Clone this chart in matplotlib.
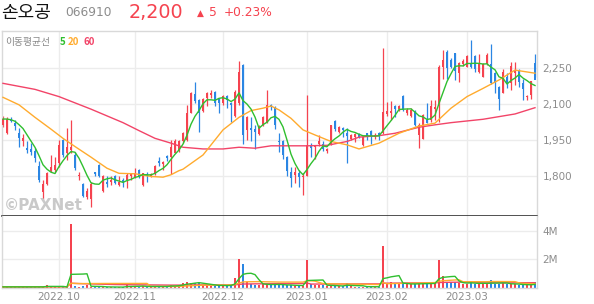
import matplotlib
matplotlib.use('Agg')
import matplotlib.pyplot as plt
import numpy as np
import pandas as pd

plt.rcParams['font.family'] = ['Noto Sans CJK KR', 'DejaVu Sans']

# ---------------- data ----------------
month_labels = ['2022.10', '2022.11', '2022.12', '2023.01', '2023.02', '2023.03']
month_start_idx = [14, 33, 55, 76, 96, 116]

opens = [2012, 1978, 2039, 2020, 1978, 1948, 1915, 1912, 1906, 1843,
         1736, 1768, 1823, 1826, 1854, 1951, 1895, 1909, 1888, 1799,
         1768, 1713, 1707, 1816, 1847, 1740, 1778, 1774, 1799, 1765,
         1785, 1785, 1801, 1796, 1826, 1764, 1809, 1801, 1812, 1865,
         1851, 1884, 1881, 1898, 1909, 1944, 1951, 2064, 2141, 2116,
         2072, 2123, 2137, 2151, 2119, 2102, 2133, 2102, 2050, 2102,
         2261, 1992, 1999, 1995, 1975, 2013, 2026, 2095, 2084, 1948,
         1948, 1881, 1819, 1805, 1812, 1796, 1801, 1926, 1920, 1934,
         1934, 1904, 1934, 2029, 1985, 1999, 1978, 1956, 1961, 1974,
         1930, 1978, 1989, 1964, 1981, 1978, 2058, 2064, 2091, 2078,
         2133, 2064, 2050, 2072, 1971, 1956, 2031, 2033, 2078, 2089,
         2254, 2317, 2282, 2309, 2227, 2265, 2254, 2265, 2298, 2234,
         2213, 2265, 2265, 2227, 2171, 2147, 2213, 2188, 2227, 2238,
         2188, 2127, 2137, 2270]
highs = [2048, 2044, 2047, 2033, 1999, 1975, 1944, 1937, 1916, 1861,
         1785, 1819, 1888, 1881, 1951, 1953, 1999, 2031, 1902, 1819,
         1771, 1750, 1778, 1819, 1851, 1806, 1799, 1801, 1806, 1799,
         1792, 1812, 1815, 1833, 1829, 1815, 1819, 1815, 1847, 1879,
         1861, 1888, 1951, 1953, 1951, 1985, 2095, 2151, 2192, 2119,
         2123, 2151, 2158, 2155, 2123, 2137, 2137, 2109, 2158, 2279,
         2265, 2050, 2044, 2013, 2013, 2050, 2158, 2099, 2089, 1978,
         1951, 1884, 1840, 1840, 1826, 1815, 2137, 1937, 1930, 1971,
         1944, 1916, 2013, 2033, 2008, 2006, 1999, 1975, 1981, 1978,
         1967, 1981, 1992, 1978, 1985, 2330, 2109, 2112, 2094, 2094,
         2136, 2082, 2082, 2075, 2020, 2058, 2102, 2116, 2116, 2261,
         2323, 2323, 2289, 2312, 2275, 2285, 2303, 2365, 2303, 2307,
         2271, 2310, 2348, 2232, 2174, 2243, 2227, 2275, 2275, 2243,
         2202, 2137, 2196, 2307]
lows = [2003, 1975, 2024, 1992, 1923, 1925, 1898, 1888, 1857, 1778,
        1702, 1764, 1818, 1818, 1840, 1881, 1868, 1895, 1826, 1785,
        1713, 1705, 1674, 1799, 1798, 1736, 1757, 1764, 1768, 1760,
        1757, 1750, 1785, 1792, 1792, 1760, 1774, 1796, 1805, 1843,
        1826, 1861, 1810, 1895, 1902, 1937, 1944, 2064, 2102, 1985,
        2068, 2089, 2123, 2089, 2064, 2095, 2082, 2026, 2047, 2095,
        1934, 1951, 1944, 1912, 1971, 2009, 2022, 2075, 1995, 1902,
        1870, 1801, 1754, 1771, 1757, 1723, 1799, 1879, 1870, 1925,
        1906, 1895, 1930, 1989, 1981, 1964, 1856, 1951, 1943, 1957,
        1926, 1951, 1934, 1953, 1951, 1974, 2050, 2033, 2047, 2072,
        2072, 2054, 2044, 2009, 1916, 1953, 2020, 2026, 2031, 2026,
        2202, 2202, 2247, 2199, 2192, 2257, 2251, 2247, 2234, 2229,
        2210, 2261, 2183, 2147, 2075, 2144, 2165, 2158, 2178, 2171,
        2116, 2116, 2119, 2210]
closes = [2037, 2037, 2028, 2009, 1957, 1957, 1907, 1902, 1875, 1785,
          1768, 1815, 1840, 1847, 1930, 1888, 1923, 1923, 1833, 1806,
          1716, 1740, 1768, 1808, 1801, 1801, 1768, 1785, 1771, 1774,
          1774, 1806, 1809, 1812, 1796, 1812, 1799, 1809, 1843, 1854,
          1857, 1875, 1920, 1948, 1944, 1978, 2061, 2147, 2113, 2061,
          2119, 2144, 2147, 2102, 2102, 2133, 2116, 2095, 2151, 2234,
          1971, 2044, 1992, 1985, 2003, 2044, 2095, 2085, 2013, 1941,
          1888, 1823, 1792, 1819, 1796, 1801, 1930, 1916, 1926, 1944,
          1912, 1912, 2013, 1995, 2002, 1992, 1968, 1971, 1974, 1964,
          1961, 1968, 1968, 1971, 1968, 2068, 2072, 2072, 2080, 2091,
          2075, 2075, 2075, 2013, 2013, 2053, 2022, 2091, 2088, 2254,
          2282, 2247, 2254, 2238, 2268, 2279, 2298, 2254, 2243, 2265,
          2265, 2303, 2185, 2188, 2119, 2234, 2185, 2257, 2240, 2192,
          2160, 2133, 2195, 2200]
volumes_m = [0.08, 0.08, 0.08, 0.08, 0.08, 0.08, 0.08, 0.08, 0.08, 0.08,
             0.08, 0.23, 0.08, 0.08, 0.08, 0.08, 0.08, 4.45, 0.12, 0.10,
             0.12, 0.18, 0.10, 0.08, 0.07, 0.09, 0.06, 0.07, 0.06, 0.07,
             0.06, 0.23, 0.10, 0.12, 0.10, 0.12, 0.10, 0.11, 0.12, 0.10,
             0.10, 0.12, 0.23, 0.15, 0.18, 0.38, 0.40, 0.38, 0.36, 0.35,
             0.18, 0.20, 0.17, 0.18, 0.16, 0.18, 0.15, 0.22, 0.70, 2.00,
             1.70, 0.45, 0.30, 0.22, 0.22, 0.25, 0.30, 0.22, 0.25, 0.22,
             0.20, 0.18, 0.20, 0.15, 0.17, 0.15, 1.95, 0.25, 0.20, 0.22,
             0.18, 0.12, 0.20, 0.15, 0.12, 0.13, 0.37, 0.12, 0.10, 0.08,
             0.10, 0.08, 0.10, 0.07, 0.08, 2.95, 0.35, 0.45, 0.30, 0.28,
             0.30, 0.25, 0.28, 0.30, 0.32, 0.35, 0.30, 0.30, 0.32, 1.95,
             0.85, 0.45, 0.42, 0.40, 0.35, 0.25, 0.30, 0.50, 0.30, 0.25,
             0.30, 0.28, 0.57, 0.30, 0.28, 0.35, 0.25, 0.30, 0.25, 0.22,
             0.20, 0.20, 0.25, 0.40]

# moving averages (index, price)
ma20_idx = [0, 4, 8, 12, 15, 18, 22, 26, 29, 33, 37, 40, 42, 44, 45, 50, 55, 59,
            62, 65, 67, 69, 72, 75, 78, 82, 86, 89, 94, 99, 104, 108, 112, 116,
            120, 124, 128, 133]
ma20_val = [2127, 2096, 2044, 1995, 1957, 1923, 1879, 1833, 1812, 1810, 1799, 1796,
            1806, 1823, 1829, 1888, 1992, 2044, 2072, 2082, 2091, 2075, 2040, 1992,
            1971, 1944, 1930, 1913, 1937, 1978, 2008, 2020, 2082, 2130, 2164, 2199,
            2240, 2227]
ma60_idx = [0, 8, 14, 22, 26, 30, 34, 38, 42, 45, 50, 55, 59, 63, 67, 72, 76, 81,
            86, 89, 94, 98, 104, 108, 112, 120, 128, 133]
ma60_val = [2185, 2160, 2130, 2078, 2050, 2022, 1989, 1957, 1937, 1920, 1913, 1913,
            1920, 1916, 1926, 1926, 1926, 1928, 1944, 1962, 1968, 1978, 2003, 2013,
            2022, 2036, 2058, 2084]

price_ticks = [1800, 1950, 2100, 2250]
vol_ticks_m = [2, 4]

# ---------------- style ----------------
RED = '#f5434f'
BLUE = '#2b86e3'
GREEN = '#2fbf2f'
ORANGE = '#ffab2e'
PINK = '#f24468'
GRID = '#ececec'
TXT = '#8c8c8c'

W, H = 594, 304
fig = plt.figure(figsize=(W / 100, H / 100), dpi=100)
fig.patch.set_facecolor('white')


def fx(px):
    return px / W


def fy(py):
    return 1 - py / H


L_PX, R_PX = 2, 537
ax = fig.add_axes([fx(L_PX), fy(216), fx(R_PX) - fx(L_PX), fy(31) - fy(216)])
axv = fig.add_axes([fx(L_PX), fy(288), fx(R_PX) - fx(L_PX), fy(216) - fy(288)], sharex=ax)

n = len(closes)
x = np.arange(n)
o = np.array(opens, float)
c = np.array(closes, float)
h = np.array(highs, float)
lo = np.array(lows, float)
up = c >= o
cols = np.where(up, RED, BLUE)

# grid
for a in (ax, axv):
    for m in month_start_idx:
        a.axvline(m, color=GRID, lw=1.0, zorder=0)
for p in price_ticks:
    ax.axhline(p, color=GRID, lw=1.0, zorder=0)
for v in vol_ticks_m:
    axv.axhline(v, color=GRID, lw=1.0, zorder=0)

# candles
ax.vlines(x, lo, h, colors=cols, lw=0.9, zorder=2)
body_bottom = np.minimum(o, c)
body_h = np.maximum(np.abs(c - o), 4)
ax.bar(x, body_h, bottom=body_bottom, width=0.74, color=cols, lw=0, zorder=3)

# moving averages
ma5 = pd.Series(c).rolling(5, min_periods=1).mean()
ax.plot(ma60_idx, ma60_val, color=PINK, lw=1.0, zorder=4)
ax.plot(ma20_idx, ma20_val, color=ORANGE, lw=1.0, zorder=4)
ax.plot(x, ma5, color=GREEN, lw=1.0, zorder=5)

ax.set_xlim(-0.25, 133.5)
ax.set_ylim(1635, 2402)

# volume
vol = np.array(volumes_m)
axv.bar(x, vol, width=0.74, color=cols, lw=0, zorder=2)
vs = pd.Series(vol)
axv.plot(x, vs.rolling(60, min_periods=1).mean(), color=PINK, lw=1.0, zorder=3)
axv.plot(x, vs.rolling(20, min_periods=1).mean(), color=ORANGE, lw=1.0, zorder=3)
axv.plot(x, vs.rolling(5, min_periods=1).mean(), color=GREEN, lw=1.0, zorder=4)
axv.set_ylim(0, 5.03)

# axes styling
for a in (ax, axv):
    a.set_facecolor('white')
    for s in a.spines.values():
        s.set_color('#d9d9d9')
        s.set_linewidth(1.0)
    a.tick_params(length=0)
    a.yaxis.tick_right()
ax.spines['bottom'].set_color('#333333')
ax.spines['bottom'].set_linewidth(1.2)
axv.spines['top'].set_visible(False)

ax.set_yticks(price_ticks)
ax.set_yticklabels([f'{p:,}' for p in price_ticks], color=TXT, fontsize=7.5,
                   family=['DejaVu Sans'])
ax.tick_params(axis='y', pad=4)
ax.tick_params(axis='x', labelbottom=False)

axv.set_yticks(vol_ticks_m)
axv.set_yticklabels([f'{v}M' for v in vol_ticks_m], color=TXT, fontsize=7.5,
                    family=['DejaVu Sans'])
axv.tick_params(axis='y', pad=4)
axv.set_xticks(month_start_idx)
axv.set_xticklabels(month_labels, color=TXT, fontsize=7.5, family=['DejaVu Sans'])
axv.tick_params(axis='x', pad=3)

# legend row inside the price panel
fig.text(fx(5), fy(42), '이동평균선', color='#888888', fontsize=7.0, va='center', ha='left')
fig.text(fx(60), fy(42), '5', color=GREEN, fontsize=7.0, va='center', ha='left', fontweight='bold')
fig.text(fx(68), fy(42), '20', color=ORANGE, fontsize=7.0, va='center', ha='left', fontweight='bold')
fig.text(fx(83), fy(42), '60', color=PINK, fontsize=7.0, va='center', ha='left', fontweight='bold')

# watermark
fig.text(fx(4), fy(206), '©PAXNet', color='#c9c9c9', fontsize=11, va='center', ha='left',
         fontweight='bold', family=['DejaVu Sans'])

# header
fig.text(fx(1), fy(13), '손오공', color='#111111', fontsize=13, va='center', ha='left')
fig.text(fx(65), fy(13), '066910', color='#8c8c8c', fontsize=8.8, va='center', ha='left',
         family=['DejaVu Sans'])
fig.text(fx(129), fy(13), '2,200', color=RED, fontsize=13.8, va='center', ha='left',
         family=['DejaVu Sans'])
fig.text(fx(197), fy(13), '▲', color=RED, fontsize=6.5, va='center', ha='left',
         family=['DejaVu Sans'])
fig.text(fx(209), fy(13), '5', color=RED, fontsize=8.8, va='center', ha='left',
         family=['DejaVu Sans'])
fig.text(fx(224), fy(13), '+0.23%', color=RED, fontsize=8.8, va='center', ha='left',
         family=['DejaVu Sans'])

fig.savefig('out.png', dpi=100, facecolor='white')
